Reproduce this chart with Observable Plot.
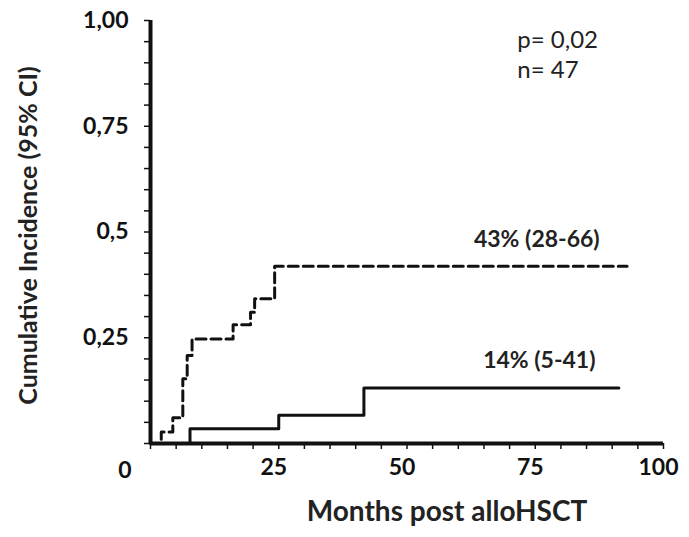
<!DOCTYPE html>
<html>
<head>
<meta charset="utf-8">
<script src="https://cdn.jsdelivr.net/npm/d3@7"></script>
<script src="https://cdn.jsdelivr.net/npm/@observablehq/plot@0.6"></script>
<style>
  html, body { margin: 0; padding: 0; background: #fff; }
  #chart { width: 689px; height: 537px; }
</style>
</head>
<body>
<div id="chart"></div>
<script>
// Dashed curve (higher incidence group)
const dashedMonths = [0, 2.1, 4.35, 6.3, 7.15, 8.1, 16.1, 19.5, 20.3, 24.2, 92.9];
const dashedValues = [0, 0.027, 0.061, 0.153, 0.208, 0.247, 0.281, 0.31, 0.342, 0.419, 0.419];
// Solid curve (lower incidence group)
const solidMonths = [0, 7.7, 25, 41.6, 91.3];
const solidValues = [0, 0.035, 0.067, 0.131, 0.131];

const yTickValues = [0.25, 0.5, 0.75, 1];
const yTickLabels = ["0,25", "0,5", "0,75", "1,00"];
const xTickValues = [25, 50, 75, 100];
const xTickLabels = ["25", "50", "75", "100"];

const curveLabels = ["43% (28-66)", "14% (5-41)"];
const curveLabelX = [75.3, 75.8];
const curveLabelY = [0.483, 0.196];

const statLabels = ["p= 0,02", "n= 47"];
const statX = [71.5, 71.5];
const statY = [0.953, 0.882];

const xTitle = "Months post alloHSCT";
const yTitle = "Cumulative Incidence (95% CI)";

const dashed = dashedMonths.map((m, i) => ({m, v: dashedValues[i]}));
const solid = solidMonths.map((m, i) => ({m, v: solidValues[i]}));
const curveText = curveLabels.map((t, i) => ({t, x: curveLabelX[i], y: curveLabelY[i]}));
const statText = statLabels.map((t, i) => ({t, x: statX[i], y: statY[i]}));

const font = "Lato, 'Open Sans', sans-serif";

const chart = Plot.plot({
  width: 689,
  height: 537,
  marginLeft: 150,
  marginRight: 26,
  marginTop: 20,
  marginBottom: 94,
  style: {fontFamily: font, background: "#fff", color: "#111"},
  x: {domain: [0, 100]},
  y: {domain: [0, 1]},
  marks: [
    // minor ticks
    Plot.axisY({ticks: d3.range(0, 1.0001, 0.05), tickFormat: () => "", tickSize: 6, strokeWidth: 1.5, label: null}),
    Plot.axisX({ticks: d3.range(0, 100.001, 5), tickFormat: () => "", tickSize: 6, strokeWidth: 1.5, label: null}),
    // tick labels
    Plot.axisY({ticks: yTickValues, tickFormat: (d) => yTickLabels[yTickValues.indexOf(d)], tickSize: 0, tickPadding: 22, fontSize: 23, fontWeight: "bold", label: null}),
    Plot.axisX({ticks: xTickValues, tickFormat: (d) => xTickLabels[xTickValues.indexOf(d)], tickSize: 0, tickPadding: 15, dx: -5, fontSize: 23, fontWeight: "bold", label: null}),
    Plot.text(["0"], {x: 0, y: 0, dx: -25.5, dy: 27, fontSize: 23, fontWeight: "bold", fill: "#111"}),
    // axis lines
    Plot.ruleX([0], {y1: 0, y2: 1, strokeWidth: 4, stroke: "#111"}),
    Plot.ruleY([0], {x1: 0, x2: 100, strokeWidth: 4, stroke: "#111"}),
    // curves
    Plot.line(dashed, {x: "m", y: "v", curve: "step-after", stroke: "#111", strokeWidth: 3, strokeDasharray: "10,5"}),
    Plot.line(solid, {x: "m", y: "v", curve: "step-after", stroke: "#111", strokeWidth: 3}),
    // annotations
    Plot.text(curveText, {x: "x", y: "y", text: "t", fontSize: 23, fontWeight: "bold", fill: "#222"}),
    Plot.text(statText, {x: "x", y: "y", text: "t", textAnchor: "start", fontSize: 24, fill: "#222"}),
    // axis titles
    Plot.text([yTitle], {frameAnchor: "left", textAnchor: "middle", rotate: -90, dx: -122, dy: 3.5, fontSize: 25, fontWeight: "bold", fill: "#222"}),
    Plot.text([xTitle], {frameAnchor: "bottom", textAnchor: "middle", dx: 40, dy: 77, fontSize: 28, fontWeight: "bold", fill: "#222"})
  ]
});
document.getElementById("chart").appendChild(chart);
</script>
</body>
</html>
